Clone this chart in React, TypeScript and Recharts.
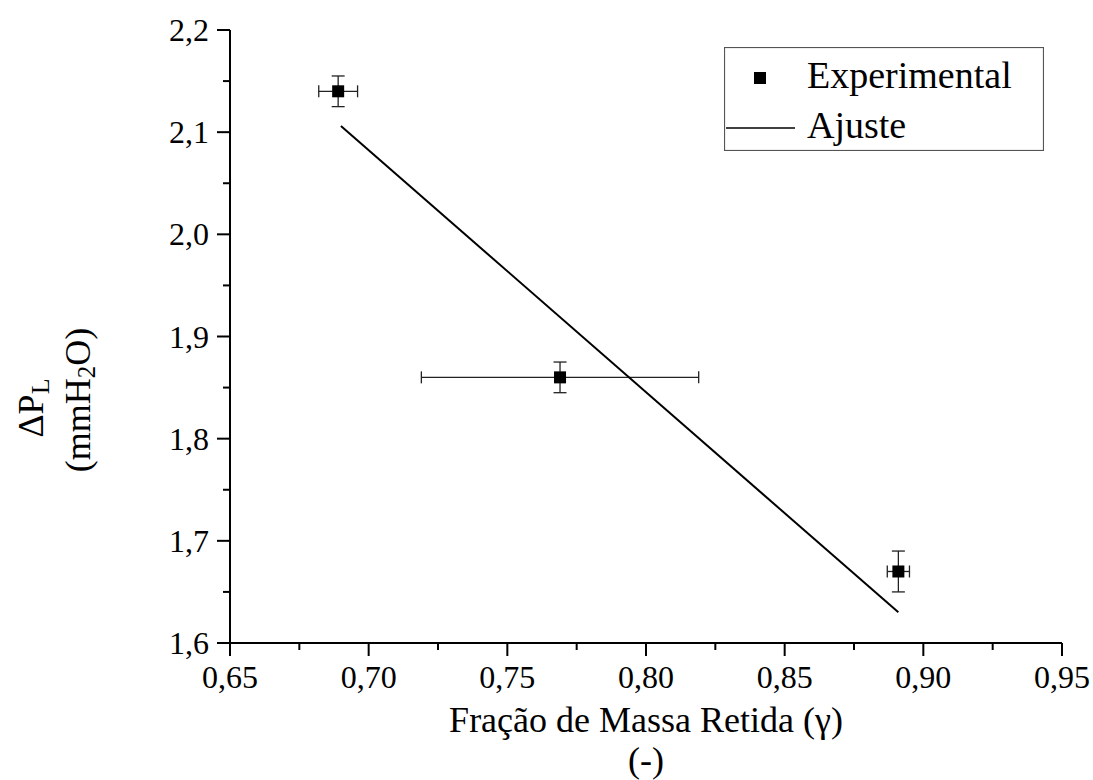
import React from "react";
import {
  ScatterChart,
  Scatter,
  XAxis,
  YAxis,
  ErrorBar,
  Legend,
} from "recharts";

// mass fraction retained (gamma) vs. pressure drop
const expX = [0.689, 0.769, 0.891];
const expY = [2.14, 1.86, 1.67];
const errX = [0.007, 0.05, 0.004];
const errY = [0.015, 0.015, 0.02];

// linear fit endpoints
const fitX = [0.69, 0.891];
const fitY = [2.106, 1.63];

const xMajor = [0.65, 0.7, 0.75, 0.8, 0.85, 0.9, 0.95];
const xMinor = [0.675, 0.725, 0.775, 0.825, 0.875, 0.925];
const yMajor = [1.6, 1.7, 1.8, 1.9, 2.0, 2.1, 2.2];
const yMinor = [1.65, 1.75, 1.85, 1.95, 2.05, 2.15];

const FONT = '"Liberation Serif", "Times New Roman", serif';
const serif = { fontFamily: FONT };

const xTicks = [...xMajor, ...xMinor].sort((a, b) => a - b);
const yTicks = [...yMajor, ...yMinor].sort((a, b) => a - b);

const isMajor = (list: number[], v: number) =>
  list.some((m) => Math.abs(m - v) < 1e-6);

const XTick = (props: any) => {
  const { x, y, payload } = props;
  const major = isMajor(xMajor, payload.value);
  return (
    <g>
      <line x1={x} x2={x} y1={y} y2={y + (major ? 13 : 7)} stroke="#000" strokeWidth={2} />
      {major && (
        <text x={x} y={y + 45} textAnchor="middle" style={serif} fontSize={32} fill="#000">
          {payload.value.toFixed(2).replace(".", ",")}
        </text>
      )}
    </g>
  );
};

const YTick = (props: any) => {
  const { x, y, payload } = props;
  const major = isMajor(yMajor, payload.value);
  return (
    <g>
      <line x1={x - (major ? 13 : 7)} x2={x} y1={y} y2={y} stroke="#000" strokeWidth={2} />
      {major && (
        <text x={x - 21} y={y + 11} textAnchor="end" style={serif} fontSize={32} fill="#000">
          {payload.value.toFixed(1).replace(".", ",")}
        </text>
      )}
    </g>
  );
};

const XTitle = (props: any) => {
  const vb = props.viewBox || { x: 230, y: 643, width: 832, height: 137 };
  const cx = vb.x + vb.width / 2;
  return (
    <g style={serif} fontSize={36} fill="#000">
      <text x={cx} y={vb.y + 89} textAnchor="middle" style={serif}>
        Fração de Massa Retida (γ)
      </text>
      <text x={cx} y={vb.y + 129} textAnchor="middle" style={serif}>
        (-)
      </text>
    </g>
  );
};

const YTitle = (props: any) => {
  const vb = props.viewBox || { x: 0, y: 30, width: 230, height: 613 };
  const x1 = vb.x + 43;
  const y1 = vb.y + 378;
  const x2 = vb.x + 90;
  const y2 = vb.y + 370;
  return (
    <g fill="#000">
      <text transform={`translate(${x1},${y1}) rotate(-90)`} textAnchor="middle" fontSize={36} style={serif}>
        <tspan>ΔP</tspan>
        <tspan fontSize={26} dy={6}>L</tspan>
      </text>
      <text transform={`translate(${x2},${y2}) rotate(-90)`} textAnchor="middle" fontSize={36} style={serif}>
        <tspan>(mmH</tspan>
        <tspan fontSize={25} dy={5}>2</tspan>
        <tspan dy={-5}>O)</tspan>
      </text>
    </g>
  );
};

const SquareMarker = (props: any) => {
  const { cx, cy } = props;
  if (cx == null || cy == null) return <g />;
  return <rect x={cx - 6} y={cy - 6} width={12} height={12} fill="#000" />;
};

const NoMarker = () => <g />;

const LegendBox = () => (
  <svg width={320} height={104} style={{ display: "block" }}>
    <rect x={0.5} y={0.5} width={319} height={103} fill="#fff" stroke="#555" strokeWidth={1.2} />
    <rect x={30} y={25} width={12} height={12} fill="#000" />
    <text x={83} y={41} style={serif} fontSize={38} fill="#000">
      Experimental
    </text>
    <line x1={2} x2={71} y1={81} y2={81} stroke="#000" strokeWidth={1.5} />
    <text x={83} y={91} style={serif} fontSize={38} fill="#000">
      Ajuste
    </text>
  </svg>
);

export default function App() {
  const expData = expX.map((x, i) => ({ x, y: expY[i], ex: errX[i], ey: errY[i] }));
  const fitData = fitX.map((x, i) => ({ x, y: fitY[i] }));

  return (
    <div style={{ position: "fixed", left: 0, top: 0, width: 1093, height: 780, background: "#fff" }}>
      <ScatterChart width={1093} height={780} margin={{ top: 30, right: 31, bottom: 0, left: 0 }}>
        <XAxis
          type="number"
          dataKey="x"
          domain={[0.65, 0.95]}
          ticks={xTicks}
          interval={0}
          allowDataOverflow
          tick={<XTick />}
          tickLine={false}
          tickSize={0}
          tickMargin={0}
          height={137}
          axisLine={{ stroke: "#000", strokeWidth: 2 }}
          label={{ content: XTitle }}
        />
        <XAxis
          xAxisId="top"
          orientation="top"
          type="number"
          domain={[0.65, 0.95]}
          height={0}
          tick={false}
          tickLine={false}
          axisLine={{ stroke: "#000", strokeWidth: 2 }}
        />
        <YAxis
          type="number"
          dataKey="y"
          domain={[1.6, 2.2]}
          ticks={yTicks}
          interval={0}
          allowDataOverflow
          tick={<YTick />}
          tickLine={false}
          tickSize={0}
          tickMargin={0}
          width={230}
          axisLine={{ stroke: "#000", strokeWidth: 2 }}
          label={{ content: YTitle }}
        />
        <YAxis
          yAxisId="right"
          orientation="right"
          type="number"
          domain={[1.6, 2.2]}
          width={0}
          tick={false}
          tickLine={false}
          axisLine={{ stroke: "#000", strokeWidth: 2 }}
        />
        <Legend
          layout="horizontal"
          verticalAlign="middle"
          align="center"
          content={() => <LegendBox />}
          wrapperStyle={{ position: "absolute", left: 724, top: 47, width: 320, height: 104 }}
        />
        <Scatter
          name="Ajuste"
          data={fitData}
          line={{ stroke: "#000", strokeWidth: 2 }}
          lineType="joint"
          shape={NoMarker}
          isAnimationActive={false}
        />
        <Scatter name="Experimental" data={expData} shape={SquareMarker} isAnimationActive={false}>
          <ErrorBar dataKey="ex" direction="x" width={6} stroke="#222" strokeWidth={1.3} isAnimationActive={false} />
          <ErrorBar dataKey="ey" direction="y" width={6.5} stroke="#222" strokeWidth={1.3} isAnimationActive={false} />
        </Scatter>
      </ScatterChart>
    </div>
  );
}
